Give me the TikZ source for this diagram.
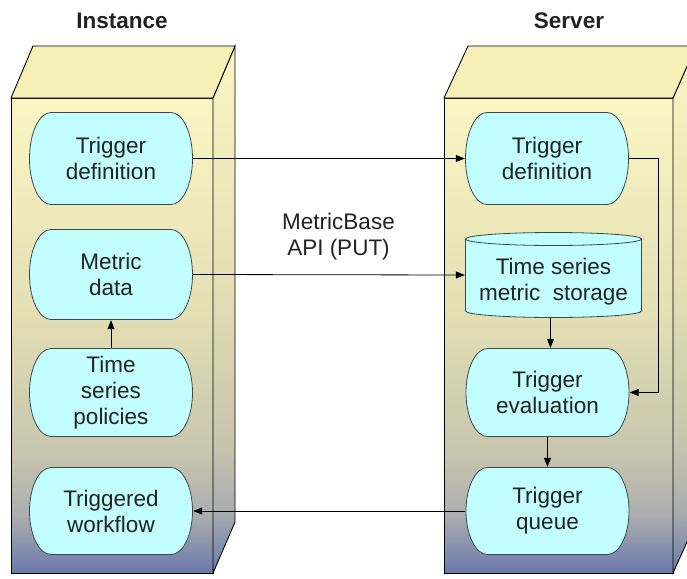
\documentclass[tikz,border=0pt]{standalone}
\usepackage{fontspec}
\setmainfont{Liberation Sans}
\usetikzlibrary{arrows.meta,calc}
\definecolor{pillfill}{HTML}{C2FEFF}
\definecolor{pillline}{HTML}{3C4848}
\definecolor{topface}{HTML}{F7F0B6}
\definecolor{txt}{HTML}{222222}
\definecolor{bA}{HTML}{FAF6C4}
\definecolor{bB}{HTML}{E4DFB4}
\definecolor{bC}{HTML}{C7C5AE}
\definecolor{bD}{HTML}{ABADAF}
\definecolor{bE}{HTML}{6A7AAA}
\pgfdeclareverticalshading{boxshade}{100bp}{color(0bp)=(bE); color(25bp)=(bE); color(31bp)=(bD); color(37.5bp)=(bC); color(52.5bp)=(bB); color(75bp)=(bA); color(100bp)=(bA)}
\newcommand\labelfont{\fontsize{22.5}{26}\selectfont}
\begin{document}
\begin{tikzpicture}[x=1pt,y=-1pt,
  boxline/.style={draw=black,line width=0.9pt,line join=miter},
  title/.style={font=\labelfont\bfseries,text=txt,inner sep=0pt},
  plain/.style={font=\labelfont,text=txt,align=center,inner sep=0pt},
  pill/.style={minimum width=164pt,minimum height=#1pt,inner sep=0pt,align=center,
    font=\labelfont,text=txt,
    path picture={\filldraw[fill=pillfill,draw=pillline,line width=0.8pt]
      ([shift={(22pt,-0.5pt)}]path picture bounding box.north west) --
      ([shift={(-22pt,-0.5pt)}]path picture bounding box.north east)
      arc[start angle=90,end angle=-90,x radius=21.5pt,y radius={(#1-1)/2*1pt}] --
      ([shift={(22pt,0.5pt)}]path picture bounding box.south west)
      arc[start angle=270,end angle=90,x radius=21.5pt,y radius={(#1-1)/2*1pt}] -- cycle;}},
  cyl/.style={minimum width=177pt,minimum height=86pt,inner sep=0pt,align=center,
    font=\labelfont,text=txt,
    path picture={\filldraw[fill=pillfill,draw=pillline,line width=0.8pt]
      ([shift={(0.5pt,-7pt)}]path picture bounding box.north west) --
      ([shift={(0.5pt,7pt)}]path picture bounding box.south west)
      arc[start angle=180,end angle=360,x radius=88pt,y radius=6.5pt] --
      ([shift={(-0.5pt,-7pt)}]path picture bounding box.north east)
      arc[start angle=0,end angle=180,x radius=88pt,y radius=6.5pt] -- cycle;
      \draw[draw=pillline,line width=0.8pt]
      ([shift={(0.5pt,-7pt)}]path picture bounding box.north west)
      arc[start angle=180,end angle=360,x radius=88pt,y radius=6.5pt];}},
  arr/.style={draw=black,line width=0.8pt,-{Triangle[length=9pt,width=7pt]}}
]
\useasboundingbox (0,0) rectangle (687,578);
\clip (0,0) rectangle (687,578);
% left box
\shadedraw[boxline,shading=boxshade] (11,98) rectangle (213,573);
\shadedraw[boxline,shading=boxshade] (213,98) -- (235,46) -- (235,522) -- (213,573) -- cycle;
\filldraw[boxline,fill=topface] (11,98) -- (33,46) -- (235,46) -- (213,98) -- cycle;
% right box
\shadedraw[boxline,shading=boxshade] (444,98) rectangle (673,573);
\shadedraw[boxline,shading=boxshade] (673,98) -- (696,46) -- (696,522) -- (673,573) -- cycle;
\filldraw[boxline,fill=topface] (444,98) -- (468,46) -- (696,46) -- (673,98) -- cycle;
% titles
\node[title] (tinst) at (122,21) {Instance};
\node[title] (tserv) at (569,21) {Server};
% left nodes
\node[pill=93] (ltd) at (111,158.5) {Trigger\\definition};
\node[pill=91] (lmd) at (111,274.5) {Metric\\data};
\node[pill=89] (ltp) at (111,392.5) {Time\\series\\policies};
\node[pill=88] (ltw) at (111,511) {Triggered\\workflow};
% right nodes
\node[pill=93] (rtd) at (547,158.5) {Trigger\\definition};
\node[cyl] (cyl) at (553.5,275) {\rule{0pt}{28.7pt}Time series\\metric\ \ storage};
\node[pill=89] (rte) at (547.5,392.5) {Trigger\\evaluation};
\node[pill=88] (rtq) at (547.5,511) {Trigger\\queue};
% label
\node[plain] (api) at (338.5,236.5) {MetricBase\\API (PUT)};
% connectors
\draw[arr] (ltd.east) -- (rtd.west);
\draw[arr] (lmd.east) -- (cyl.west);
\draw[arr] (ltp.north) -- (lmd.south);
\draw[arr] (rtd.east) -- ++(29,0) |- (rte.east);
\draw[arr] ([xshift=3pt]rte.north |- cyl.south) -- ([xshift=3pt]rte.north);
\draw[arr] (rte.south) -- (rtq.north);
\draw[arr] (rtq.west) -- (ltw.east);
\end{tikzpicture}
\end{document}
